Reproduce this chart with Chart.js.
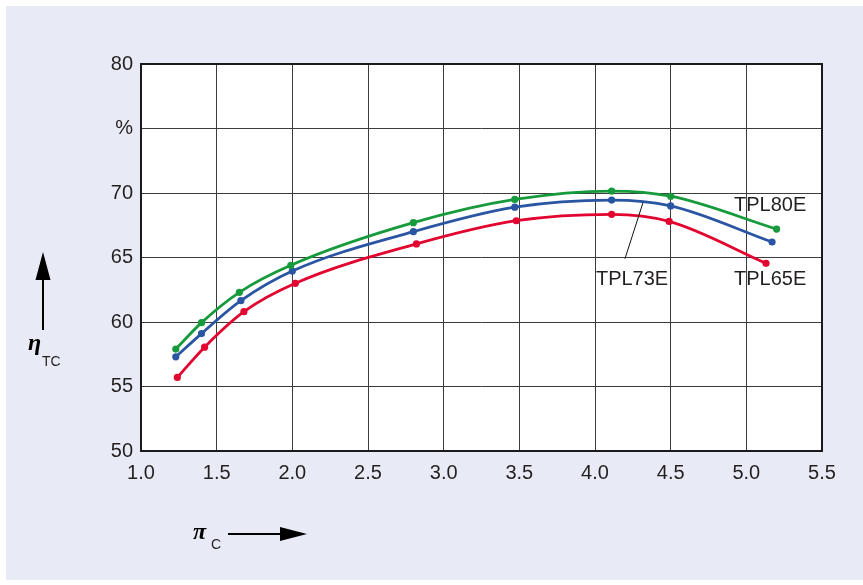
<!DOCTYPE html>
<html>
<head>
<meta charset="utf-8">
<script src="https://cdn.jsdelivr.net/npm/chart.js@4.4.0/dist/chart.umd.min.js"></script>
<style>
  html, body { margin: 0; padding: 0; background: #ffffff; }
  #wrap { width: 863px; height: 585px; position: relative; }
</style>
</head>
<body>
<div id="wrap"><canvas id="c" width="863" height="585"></canvas></div>
<script>
// ---- data ----
const seriesNames = ['TPL80E', 'TPL73E', 'TPL65E'];
const piC_TPL80E = [1.23, 1.40, 1.65, 1.99, 2.80, 3.47, 4.11, 4.50, 5.20];
const eta_TPL80E = [57.9, 59.95, 62.3, 64.4, 67.7, 69.5, 70.15, 69.75, 67.2];
const piC_TPL73E = [1.23, 1.40, 1.66, 2.00, 2.80, 3.47, 4.11, 4.50, 5.17];
const eta_TPL73E = [57.3, 59.1, 61.65, 63.95, 67.0, 68.9, 69.45, 69.0, 66.2];
const piC_TPL65E = [1.24, 1.42, 1.68, 2.02, 2.82, 3.48, 4.11, 4.49, 5.13];
const eta_TPL65E = [55.7, 58.05, 60.8, 63.0, 66.05, 67.85, 68.35, 67.8, 64.55];
const xTicks = [1.0, 1.5, 2.0, 2.5, 3.0, 3.5, 4.0, 4.5, 5.0, 5.5];
const yTicks = [50, 55, 60, 65, 70, 75, 80];
const yTickLabels = ['50', '55', '60', '65', '70', '%', '80'];
// label anchor positions in data units
const labelTPL80E = { x: 5.157, y: 69.0 };
const labelTPL73E = { x: 4.245, y: 63.26 };
const labelTPL65E = { x: 5.157, y: 63.26 };
const leader73 = [{ x: 4.198, y: 64.9 }, { x: 4.317, y: 69.25 }];

const colors = { TPL80E: '#179a3c', TPL73E: '#2a55a3', TPL65E: '#e2052f' };
const textColor = '#231f20';
const FONT = '"Liberation Sans", Arial, Helvetica, sans-serif';

function pts(xs, ys) { return xs.map((x, i) => ({ x: x, y: ys[i] })); }

function ds(name, xs, ys) {
  return {
    label: name,
    data: pts(xs, ys),
    borderColor: colors[name],
    backgroundColor: colors[name],
    pointBackgroundColor: colors[name],
    pointBorderWidth: 0,
    pointRadius: 3.6,
    borderWidth: 2.8,
    cubicInterpolationMode: 'monotone',
    fill: false
  };
}

const decor = {
  id: 'decor',
  beforeDraw(chart) {
    const ctx = chart.ctx;
    const a = chart.chartArea;
    ctx.save();
    ctx.fillStyle = '#e8ebf5';
    ctx.fillRect(6, 6, 863 - 6, 580 - 6);
    ctx.fillStyle = '#ffffff';
    ctx.fillRect(a.left, a.top, a.right - a.left, a.bottom - a.top);
    ctx.restore();
  },
  afterDatasetsDraw(chart) {
    const ctx = chart.ctx;
    const a = chart.chartArea;
    const xs = chart.scales.x, ys = chart.scales.y;
    ctx.save();
    // frame
    ctx.strokeStyle = '#1a1a1a';
    ctx.lineWidth = 2;
    ctx.strokeRect(a.left, a.top, a.right - a.left, a.bottom - a.top);
    // series labels
    ctx.fillStyle = textColor;
    ctx.font = '20px ' + FONT;
    ctx.textAlign = 'center';
    ctx.textBaseline = 'middle';
    ctx.fillText('TPL80E', xs.getPixelForValue(labelTPL80E.x), ys.getPixelForValue(labelTPL80E.y));
    ctx.fillText('TPL73E', xs.getPixelForValue(labelTPL73E.x), ys.getPixelForValue(labelTPL73E.y));
    ctx.fillText('TPL65E', xs.getPixelForValue(labelTPL65E.x), ys.getPixelForValue(labelTPL65E.y));
    // leader line
    ctx.strokeStyle = '#111';
    ctx.lineWidth = 1;
    ctx.beginPath();
    ctx.moveTo(xs.getPixelForValue(leader73[0].x), ys.getPixelForValue(leader73[0].y));
    ctx.lineTo(xs.getPixelForValue(leader73[1].x), ys.getPixelForValue(leader73[1].y));
    ctx.stroke();

    // y axis title: arrow up + eta_TC
    ctx.fillStyle = '#000';
    ctx.strokeStyle = '#000';
    ctx.lineWidth = 2;
    ctx.beginPath();
    ctx.moveTo(43, 330); ctx.lineTo(43, 270); ctx.stroke();
    ctx.beginPath();
    ctx.moveTo(43, 252); ctx.lineTo(35.5, 280); ctx.lineTo(50.5, 280); ctx.closePath(); ctx.fill();
    ctx.font = 'italic bold 24px "Liberation Serif", "DejaVu Serif", serif';
    ctx.textAlign = 'left';
    ctx.textBaseline = 'alphabetic';
    ctx.fillText('η', 28, 350);
    ctx.font = '14px ' + FONT;
    ctx.fillStyle = textColor;
    ctx.fillText('TC', 42, 366);

    // x axis title: pi_C + arrow right
    ctx.fillStyle = '#000';
    ctx.font = 'italic bold 24px "Liberation Serif", "DejaVu Serif", serif';
    ctx.fillText('π', 193, 539);
    ctx.font = '14px ' + FONT;
    ctx.fillStyle = textColor;
    ctx.fillText('C', 211, 549);
    ctx.fillStyle = '#000';
    ctx.beginPath();
    ctx.moveTo(228, 534); ctx.lineTo(285, 534); ctx.stroke();
    ctx.beginPath();
    ctx.moveTo(307, 534); ctx.lineTo(280, 527); ctx.lineTo(280, 541); ctx.closePath(); ctx.fill();
    ctx.restore();
  }
};

new Chart(document.getElementById('c'), {
  type: 'line',
  data: {
    datasets: [
      ds('TPL80E', piC_TPL80E, eta_TPL80E),
      ds('TPL73E', piC_TPL73E, eta_TPL73E),
      ds('TPL65E', piC_TPL65E, eta_TPL65E)
    ]
  },
  options: {
    responsive: false,
    animation: false,
    devicePixelRatio: 1,
    layout: { padding: { left: 0, top: 64, right: 41, bottom: 104 } },
    plugins: { legend: { display: false }, tooltip: { enabled: false } },
    scales: {
      x: {
        type: 'linear',
        min: 1.0, max: 5.5,
        afterBuildTicks(scale) { scale.ticks = xTicks.map(v => ({ value: v })); },
        afterFit(scale) { scale.height = 30; },
        border: { display: false },
        grid: { color: '#3c3c3c', lineWidth: 1, drawTicks: false },
        ticks: {
          padding: 10,
          color: textColor,
          font: { family: FONT, size: 20 },
          maxRotation: 0,
          callback: (v) => Number(v).toFixed(1)
        }
      },
      y: {
        type: 'linear',
        min: 50, max: 80,
        afterBuildTicks(scale) { scale.ticks = yTicks.map(v => ({ value: v })); },
        afterFit(scale) { scale.width = 141; },
        border: { display: false },
        grid: { color: '#3c3c3c', lineWidth: 1, drawTicks: false },
        ticks: {
          padding: 8,
          color: textColor,
          font: { family: FONT, size: 20 },
          callback: (v) => { const i = yTicks.indexOf(v); return i >= 0 ? yTickLabels[i] : ''; }
        }
      }
    }
  },
  plugins: [decor]
});
</script>
</body>
</html>
